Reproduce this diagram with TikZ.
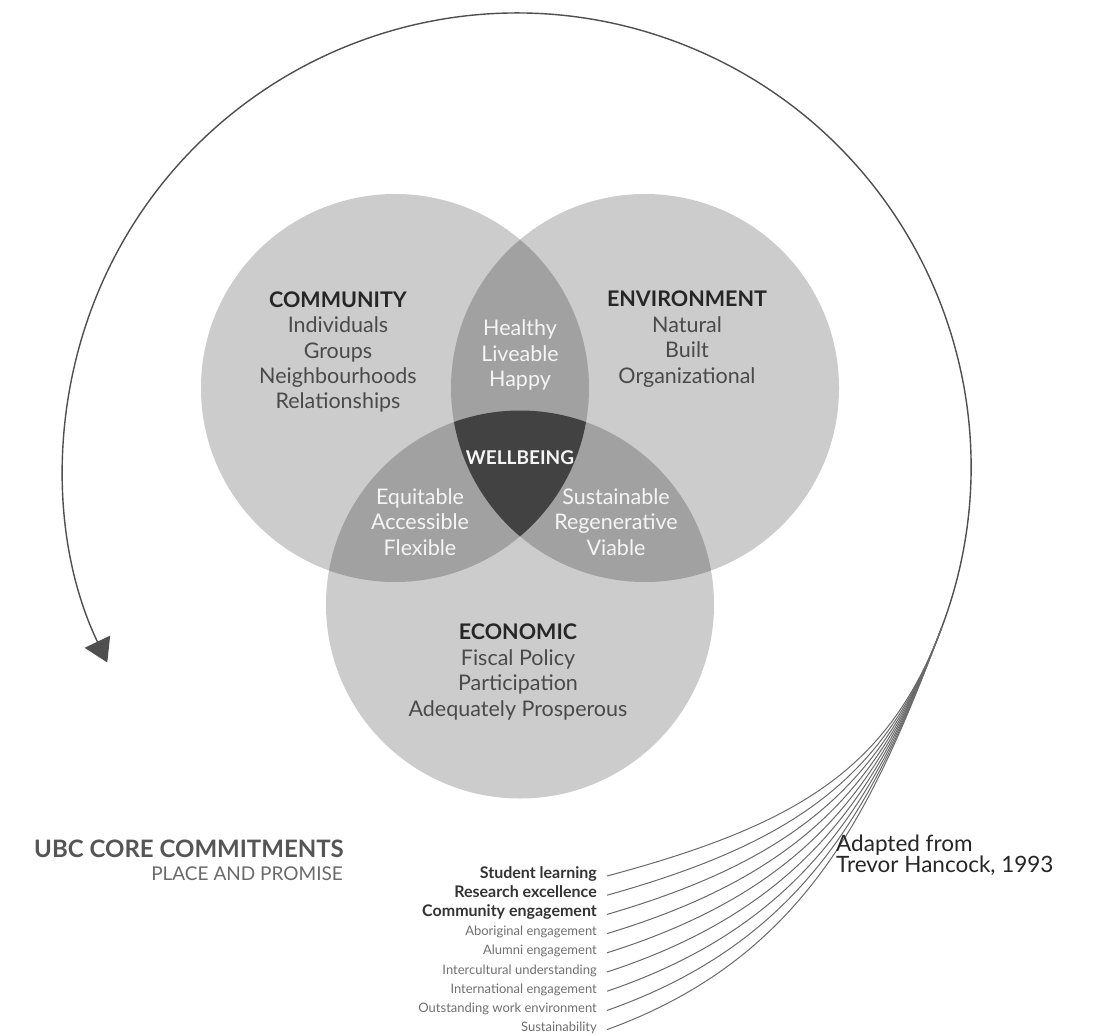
\documentclass[tikz,border=0pt]{standalone}
\usepackage{fontspec}
\setmainfont{Lato}
\usetikzlibrary{arrows.meta}
\definecolor{ringfill}{HTML}{CCCCCC}
\definecolor{pairfill}{HTML}{A1A1A1}
\definecolor{corefill}{HTML}{424242}
\definecolor{headtext}{HTML}{262626}
\definecolor{subtext}{HTML}{4A4A4A}
\definecolor{whitetext}{HTML}{F5F5F5}
\definecolor{arcline}{HTML}{4F4F4F}
\definecolor{fanline}{HTML}{6A6A6A}
\definecolor{listdark}{HTML}{333333}
\definecolor{listlight}{HTML}{707070}
\definecolor{titletext}{HTML}{555555}
\definecolor{subtitletext}{HTML}{6A6A6A}
\begin{document}
\begin{tikzpicture}[x=1pt,y=-1pt,
  block/.style={align=center,inner sep=0pt,font=\fontsize{21.5}{25.4}\selectfont,text=subtext},
  whiteblock/.style={block,text=whitetext},
  boldlist/.style={anchor=east,inner sep=0pt,text height=11pt,text depth=3pt,font=\fontsize{16}{18}\selectfont\bfseries,text=listdark},
  lightlist/.style={anchor=east,inner sep=0pt,text height=11pt,text depth=3pt,font=\fontsize{13}{15}\selectfont,text=listlight},
  fan/.style={draw=fanline,line width=1pt},
  bigarc/.style={draw=arcline,line width=1.4pt}]
\useasboundingbox (0,0) rectangle (1094,1034);
\fill[white] (0,0) rectangle (1094,1034);
% circle centres
\coordinate (cC) at (395,388);
\coordinate (cE) at (645,388);
\coordinate (cK) at (520,604.5);
\def\R{194}
% single circles
\fill[ringfill] (cC) circle[radius=\R];
\fill[ringfill] (cE) circle[radius=\R];
\fill[ringfill] (cK) circle[radius=\R];
% pairwise overlaps
\begin{scope}
  \clip (cC) circle[radius=\R];
  \fill[pairfill] (cE) circle[radius=\R];
  \fill[pairfill] (cK) circle[radius=\R];
\end{scope}
\begin{scope}
  \clip (cE) circle[radius=\R];
  \fill[pairfill] (cK) circle[radius=\R];
\end{scope}
% triple overlap
\begin{scope}
  \clip (cC) circle[radius=\R];
  \clip (cE) circle[radius=\R];
  \fill[corefill] (cK) circle[radius=\R];
\end{scope}
% circle texts
\node[block] (community) at (338,352) {{\bfseries\color{headtext}COMMUNITY}\\Individuals\\Groups\\Neighbourhoods\\Relationships};
\node[block] (environment) at (687,339) {{\bfseries\color{headtext}ENVIRONMENT}\\Natural\\Built\\Organizational};
\node[block] (economic) at (518,672) {{\bfseries\color{headtext}ECONOMIC}\\Fiscal Policy\\Participation\\Adequately Prosperous};
\node[whiteblock] (healthy) at (520,355) {Healthy\\Liveable\\Happy};
\node[whiteblock,font=\fontsize{19}{22}\selectfont\bfseries] (wellbeing) at (520,458) {WELLBEING};
\node[whiteblock] (equitable) at (420,522) {Equitable\\Accessible\\Flexible};
\node[whiteblock] (sustainable) at (616,522) {Sustainable\\Regenerative\\Viable};
% big circular arrow
\coordinate (P) at (941.7,627.5);
\draw[bigarc,-{Triangle[length=23pt,width=28pt]}] (P) arc[start angle=20.7,end angle=-205.5,radius=454];
% list of commitments
\node[boldlist] (L0) at (597,874) {Student learning};
\node[boldlist] (L1) at (597,893.2) {Research excellence};
\node[boldlist] (L2) at (597,912.4) {Community engagement};
\node[lightlist] (L3) at (597,931.6) {Aboriginal engagement};
\node[lightlist] (L4) at (597,950.8) {Alumni engagement};
\node[lightlist] (L5) at (597,970) {Intercultural understanding};
\node[lightlist] (L6) at (597,989.2) {International engagement};
\node[lightlist] (L7) at (597,1008.4) {Outstanding work environment};
\node[lightlist] (L8) at (597,1027.6) {Sustainability};
\foreach \i in {0,...,8}{
  \pgfmathsetmacro\ang{15+0.625*\i}
  \pgfmathsetmacro\la{200+1.5*\i}
  \pgfmathsetmacro\lb{150+5.5*\i}
  \draw[fan] ([xshift=10pt,yshift=-2pt]L\i.east) .. controls +(-\ang:\la) and +(110.7:\lb) .. (P);
}
% titles
\node[anchor=east,inner sep=0pt,font=\fontsize{24}{28}\selectfont\bfseries,text=titletext] (ubc) at (344,849) {UBC CORE COMMITMENTS};
\node[anchor=east,inner sep=0pt,font=\fontsize{19}{23}\selectfont,text=subtitletext] (place) at (343,874) {PLACE AND PROMISE};
\node[anchor=west,align=left,inner sep=0pt,font=\fontsize{22.5}{18}\selectfont,text=headtext] (adapted) at (836,855) {Adapted from\\Trevor Hancock, 1993};
\end{tikzpicture}
\end{document}
